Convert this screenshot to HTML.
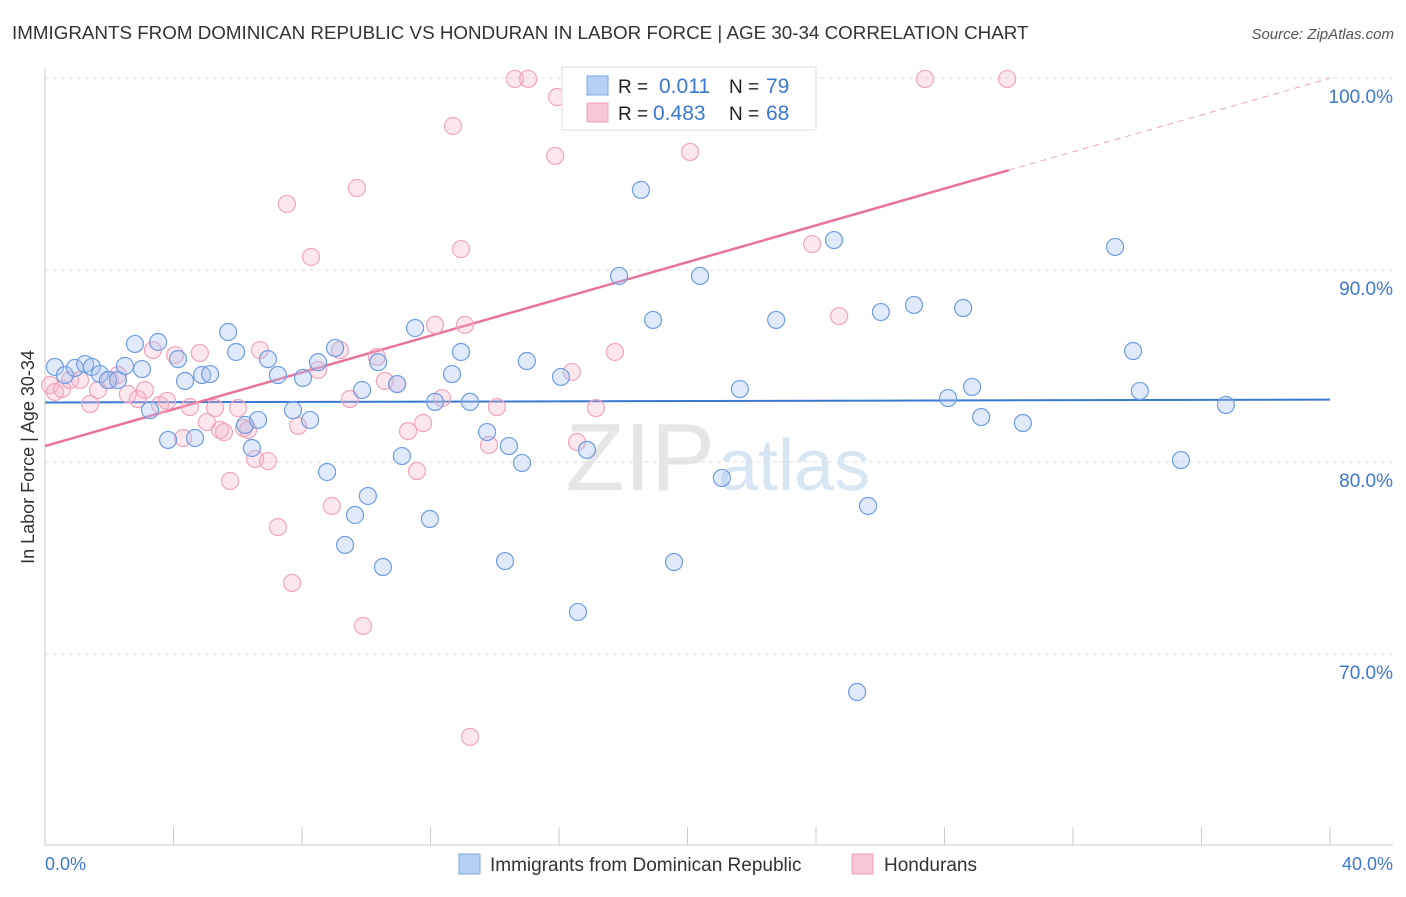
<!DOCTYPE html>
<html><head><meta charset="utf-8"><style>
body{margin:0;background:#fff;font-family:"Liberation Sans",sans-serif;}
svg text{font-family:"Liberation Sans",sans-serif;}
</style></head><body>
<svg id="chart" width="1406" height="892" xmlns="http://www.w3.org/2000/svg">
<text x="12" y="39" font-size="18.8" fill="#333">IMMIGRANTS FROM DOMINICAN REPUBLIC VS HONDURAN IN LABOR FORCE | AGE 30-34 CORRELATION CHART</text>
<text x="1394" y="39" font-size="15" fill="#555" font-style="italic" text-anchor="end">Source: ZipAtlas.com</text>
<text x="715" y="490" font-size="96" fill="#e6e6e6" text-anchor="end" font-family="Liberation Serif">ZIP</text>
<text x="718" y="490" font-size="72" fill="#d8e6f4">atlas</text>
<g id="grid"></g><g id="axes"></g><g id="trend"></g><g id="pts"></g>
<text transform="translate(34,457) rotate(-90)" font-size="18" fill="#333" text-anchor="middle">In Labor Force | Age 30-34</text>
<text x="45" y="870" font-size="18" fill="#3b78d0">0.0%</text>
<text x="1393" y="870" font-size="18" fill="#3b78d0" text-anchor="end">40.0%</text>
<g>
<rect x="562" y="67" width="254" height="63" fill="#fff" stroke="#ddd"/>
<rect x="587" y="76" width="21" height="19" fill="#b5cff5" stroke="#7fa7e3"/>
<rect x="587" y="103" width="21" height="19" fill="#f8c6d6" stroke="#eea3bc"/>
<text x="618" y="93" font-size="19" fill="#222">R = </text><text x="659" y="93" font-size="21" fill="#3b78d0">0.011</text>
<text x="729" y="93" font-size="19" fill="#222">N = </text><text x="766" y="93" font-size="21" fill="#3b78d0">79</text>
<text x="618" y="120" font-size="19" fill="#222">R = </text><text x="653" y="120" font-size="21" fill="#3b78d0">0.483</text>
<text x="729" y="120" font-size="19" fill="#222">N = </text><text x="766" y="120" font-size="21" fill="#3b78d0">68</text>
</g>
<g>
<rect x="459" y="854" width="21" height="20" fill="#b5cff5" stroke="#7fa7e3"/>
<text x="490" y="871" font-size="19" fill="#333">Immigrants from Dominican Republic</text>
<rect x="852" y="854" width="21" height="20" fill="#f8c6d6" stroke="#eea3bc"/>
<text x="884" y="871" font-size="19" fill="#333">Hondurans</text>
</g>
</svg>
<script>
const blueX=[.31,.62,.93,1.25,1.46,1.71,1.96,2.27,2.49,2.8,3.02,3.27,3.52,3.83,4.14,4.36,4.67,4.89,5.14,5.7,5.95,6.23,6.44,6.63,6.94,7.25,7.72,8.03,8.25,8.5,8.78,9.03,9.34,9.65,9.87,10.05,10.37,10.52,10.96,11.11,11.52,11.98,12.14,12.67,12.95,13.23,13.76,14.32,14.44,14.85,15.0,16.06,16.59,16.87,17.87,18.55,18.93,19.58,20.39,21.07,21.63,22.76,24.56,25.28,25.62,26.02,27.05,28.11,28.58,28.86,29.14,30.44,33.31,33.87,34.08,35.36,36.76];
const blueY=[84.95,84.53,84.9,85.1,84.95,84.58,84.27,84.27,85.0,86.15,84.84,82.7,86.25,81.15,85.36,84.22,81.25,84.53,84.58,86.77,85.73,81.93,80.73,82.19,85.36,84.53,82.7,84.38,82.19,85.2,79.48,85.94,75.68,77.24,83.75,78.23,85.2,74.53,84.06,80.31,86.98,77.03,83.13,84.58,85.73,83.13,81.56,74.84,80.83,79.95,85.26,84.43,72.19,80.63,89.69,94.17,87.4,74.79,89.69,79.17,83.8,87.4,91.56,68.02,77.71,87.81,88.18,83.33,88.02,83.91,82.34,82.03,91.2,85.78,83.7,80.1,82.97];
const pinkX=[.16,.31,.53,.78,1.09,1.4,1.65,2.02,2.27,2.58,2.89,3.11,3.36,3.58,3.8,4.05,4.3,4.51,4.82,5.04,5.29,5.45,5.57,5.76,6.01,6.19,6.32,6.54,6.69,6.94,7.25,7.53,7.69,7.88,8.28,8.5,8.93,9.18,9.49,9.71,9.9,10.33,10.58,10.96,11.3,11.58,11.77,12.14,12.36,12.7,12.95,13.07,13.23,13.82,14.07,14.63,15.04,15.88,15.94,16.4,16.56,17.15,17.74,20.08,20.89,23.88,24.72,27.39,29.95];
const pinkY=[84.01,83.65,83.8,84.27,84.27,83.02,83.75,84.27,84.53,83.54,83.28,83.75,85.83,82.97,83.18,85.57,81.25,82.86,85.68,82.08,82.81,81.67,81.56,79.01,82.81,81.77,81.67,80.16,85.83,80.05,76.61,93.44,73.7,81.88,90.68,84.79,77.71,85.83,83.28,94.27,71.46,85.47,84.22,84.06,81.61,79.53,82.03,87.14,83.33,97.5,91.09,87.14,65.68,80.89,82.86,99.95,99.95,95.94,99.01,84.69,81.04,82.81,85.73,96.15,98.44,91.35,87.6,99.95,99.95];
const yTicks=[100,90,80,70];
const yTickLabels=["100.0%","90.0%","80.0%","70.0%"];
const xTicks=[0,4,8,12,16,20,24,28,32,36,40];
const blueTrend=[83.1,83.25];
const pinkTrend=[80.83,99.99];
const pinkSolidEnd=30;
const NS="http://www.w3.org/2000/svg";
const sx=v=>45+v*32.125, sy=v=>78+(100-v)*19.2;
function mk(p,t,a){const e=document.createElementNS(NS,t);for(const k in a)e.setAttribute(k,a[k]);document.getElementById(p).appendChild(e);return e;}
yTicks.forEach((t,i)=>{
 const g=mk('grid','line',{x1:45,x2:1393,y1:sy(t),y2:sy(t),stroke:'#ddd','stroke-dasharray':'4,4'});
 
 
 const l=mk('grid','text',{x:1393,y:sy(t)+25,'font-size':19,fill:'#3b78d0','text-anchor':'end'});
 l.textContent=yTickLabels[i];
 
 
});
let a=mk('axes','line',{x1:45,x2:45,y1:68,y2:845,stroke:'#ccc'});


a=mk('axes','line',{x1:45,x2:1393,y1:845,y2:845,stroke:'#ccc'});


xTicks.forEach(t=>{const e=mk('axes','line',{x1:sx(t),x2:sx(t),y1:827,y2:845,stroke:'#ccc'});
 
 });
function tl(x1,y1,x2,y2,c,w,d,n){const e=mk('trend','line',{x1:sx(x1),y1:sy(y1),x2:sx(x2),y2:sy(y2),stroke:c,'stroke-width':w});if(d)e.setAttribute('stroke-dasharray',d);
 
 }
tl(0,blueTrend[0],40,blueTrend[1],'#3b78d0',2,null,'blue-trend-line');
const pm=(pinkTrend[1]-pinkTrend[0])/40;
tl(0,pinkTrend[0],pinkSolidEnd,pinkTrend[0]+pm*pinkSolidEnd,'#e8739b',2.5,null,'pink-trend-line');
tl(pinkSolidEnd,pinkTrend[0]+pm*pinkSolidEnd,40,pinkTrend[1],'#eea3bc',1,'6,5','pink-trend-extension');
pinkX.forEach((x,i)=>{const c=mk('pts','circle',{cx:sx(x),cy:sy(pinkY[i]),r:8.5,fill:'rgba(246,175,200,0.3)',stroke:'#f0a5bf','stroke-width':1.2});
 
 });
blueX.forEach((x,i)=>{const c=mk('pts','circle',{cx:sx(x),cy:sy(blueY[i]),r:8.5,fill:'rgba(165,195,240,0.35)',stroke:'#6f9de0','stroke-width':1.2});
 
 });
</script>
</body></html>
